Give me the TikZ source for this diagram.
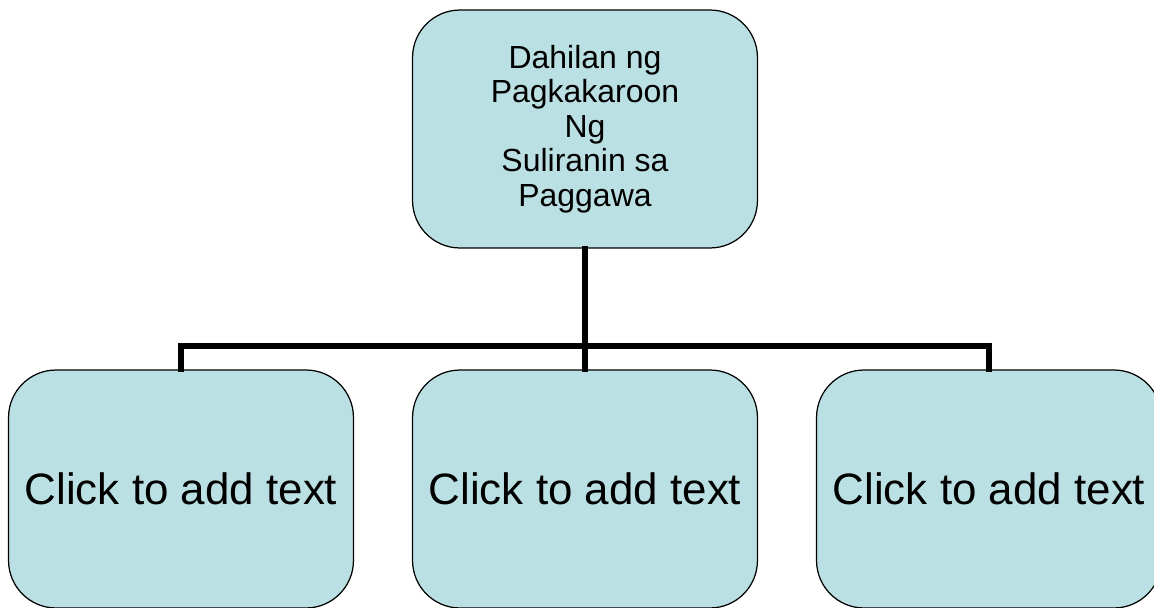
\documentclass[tikz,border=0pt]{standalone}
\usepackage{fontspec}
\setmainfont{Liberation Sans}

\begin{document}
\begin{tikzpicture}[x=0.02cm,y=-0.02cm,
    box/.style={draw=black, line width=0.7pt, fill=boxblue,
      rounded corners=0.95cm, minimum width=6.9cm, minimum height=4.76cm,
      align=center, inner sep=0pt},
    conn/.style={line width=3.4pt, line cap=rect}]

\definecolor{boxblue}{HTML}{BBE0E3}

% ==== 画布大小 ====
\useasboundingbox (0,0) rectangle (1154,608);

% ==== 上面的总框 ====
\node[box, font=\fontsize{18.2}{19.6}\selectfont] (cause) at (585,129)
  {Dahilan ng\\Pagkakaroon\\Ng\\Suliranin sa\\Paggawa};

% ==== 下面一排三个框 ====
\node[box, font=\fontsize{25}{28}\selectfont] (left)  at (181,489) {Click to add text};
\node[box, font=\fontsize{25}{28}\selectfont] (mid)   at (585,489) {Click to add text};
\node[box, font=\fontsize{25}{28}\selectfont] (right) at (989,489) {Click to add text};

% ==== 连接线 ====
\coordinate (bus) at (585,346);
\draw[conn] (cause.south) -- (cause.south |- bus);
\draw[conn] (left.north) -- (left.north |- bus) -- (right.north |- bus) -- (right.north);
\draw[conn] (mid.north) -- (mid.north |- bus);

\end{tikzpicture}
\end{document}
